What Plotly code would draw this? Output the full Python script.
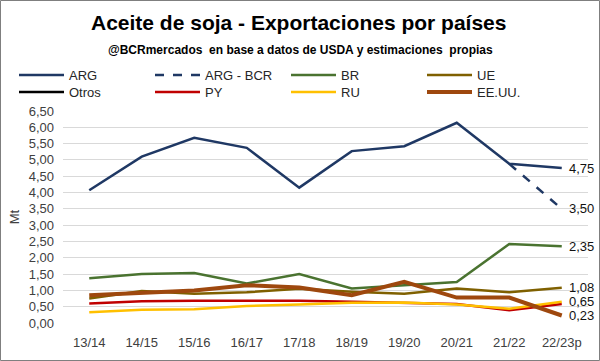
import plotly.graph_objects as go

campaigns = ["13/14", "14/15", "15/16", "16/17", "17/18", "18/19", "19/20", "20/21", "21/22", "22/23p"]
arg = [4.07, 5.10, 5.68, 5.37, 4.15, 5.27, 5.42, 6.14, 4.88, 4.75]
arg_bcr = [None, None, None, None, None, None, None, None, 4.88, 3.50]
br = [1.37, 1.50, 1.53, 1.21, 1.50, 1.06, 1.16, 1.26, 2.42, 2.35]
ue = [0.75, 0.98, 0.90, 0.94, 1.05, 0.96, 0.90, 1.06, 0.94, 1.08]
otros = [None] * 10
py = [0.60, 0.67, 0.68, 0.68, 0.68, 0.65, 0.62, 0.58, 0.39, 0.58]
ru = [0.33, 0.41, 0.42, 0.52, 0.57, 0.62, 0.63, 0.57, 0.44, 0.65]
eeuu = [0.85, 0.93, 1.00, 1.16, 1.09, 0.85, 1.26, 0.78, 0.78, 0.23]

series = [
    ("ARG", arg, "#1f3864", 2.5, "solid", "legend"),
    ("ARG - BCR", arg_bcr, "#1f3864", 2.5, "dash", "legend"),
    ("BR", br, "#4a7330", 2.5, "solid", "legend"),
    ("UE", ue, "#7f6000", 2.5, "solid", "legend"),
    ("Otros", otros, "#000000", 2.5, "solid", "legend2"),
    ("PY", py, "#c00000", 2.5, "solid", "legend2"),
    ("RU", ru, "#ffc000", 2.5, "solid", "legend2"),
    ("EE.UU.", eeuu, "#9e480e", 4, "solid", "legend2"),
]

FONT = "Liberation Sans, Arial, sans-serif"

fig = go.Figure()
for name, vals, color, w, dash, lg in series:
    fig.add_trace(go.Scatter(x=campaigns, y=vals, name=name, mode="lines", legend=lg,
                             line=dict(color=color, width=w, dash=dash)))

# end labels
label_series = [arg, arg_bcr, br, ue, ru, eeuu]
for vals in label_series:
    v = vals[-1]
    fig.add_annotation(x=campaigns[-1], y=v, xref="x", yref="y",
                       text=f"{v:.2f}".replace(".", ","), showarrow=False,
                       xanchor="left", xshift=5,
                       font=dict(family=FONT, size=13, color="#111111"))

W, H = 600, 361
L, R, T, B = 63, 12, 111, 38
pw, ph = W - L - R, H - T - B

def px_x(p):
    return (p - L) / pw

def px_y(p):
    return (H - B - p) / ph

fig.add_annotation(x=px_x(298), y=px_y(22), xref="paper", yref="paper",
                   text="<b>Aceite de soja - Exportaciones por países</b>", showarrow=False,
                   xanchor="center", yanchor="middle",
                   font=dict(family=FONT, size=21, color="#000000"))
fig.add_annotation(x=px_x(300), y=px_y(50), xref="paper", yref="paper",
                   text="<b>@BCRmercados  en base a datos de USDA y estimaciones  propias</b>", showarrow=False,
                   xanchor="center", yanchor="middle",
                   font=dict(family=FONT, size=12, color="#000000"))

fig.add_shape(type="rect", xref="paper", yref="paper",
              x0=px_x(0.5), x1=px_x(W - 0.5), y0=px_y(0.5), y1=px_y(H - 0.5),
              line=dict(color="#7f7f7f", width=1), fillcolor="rgba(0,0,0,0)", layer="below")

legend_common = dict(orientation="h", xanchor="left", yanchor="middle",
                     entrywidth=76, entrywidthmode="pixels", itemwidth=45,
                     font=dict(family=FONT, size=13, color="#262626"),
                     bgcolor="rgba(0,0,0,0)", tracegroupgap=0)

fig.update_layout(
    width=W, height=H,
    margin=dict(l=L, r=R, t=T, b=B, autoexpand=False),
    paper_bgcolor="white", plot_bgcolor="white",
    separators=",.",
    showlegend=True,
    legend=dict(x=px_x(14), y=px_y(75), **legend_common),
    legend2=dict(x=px_x(14), y=px_y(92), **legend_common),
    xaxis=dict(showgrid=False, showline=False, ticks="", range=[-0.5, 9.5], ticklabelstandoff=10,
               tickfont=dict(family=FONT, size=13, color="#404040")),
    yaxis=dict(range=[0, 6.5], dtick=0.5, tickformat=".2f", showgrid=True, gridcolor="#d9d9d9",
               gridwidth=1, zeroline=False, showline=False, ticklabelstandoff=8,
               tickfont=dict(family=FONT, size=13, color="#404040"),
               title=dict(text="Mt", standoff=6,
                          font=dict(family=FONT, size=13, color="#404040"))),
)

fig.write_html("out.html", config={"displayModeBar": False},
               post_script="document.body.style.margin='0';document.body.style.padding='0';")
